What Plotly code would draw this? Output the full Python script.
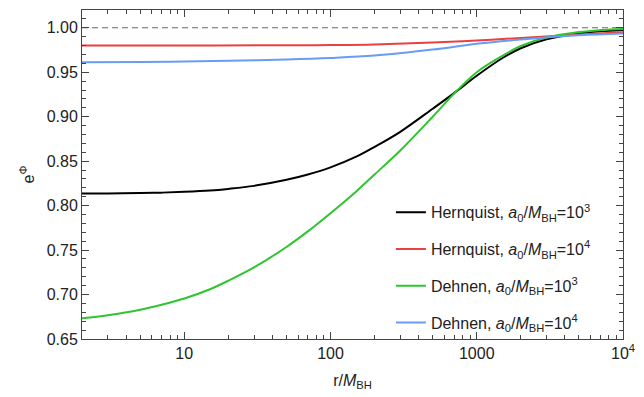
import plotly.graph_objects as go

# ---- data ----
r_grid = [2, 3, 5, 7, 10, 15, 20, 30, 50, 70, 100, 150, 200, 300, 500, 700, 1000, 1500, 2000, 3000, 5000, 7000, 10000]

hern3_y = [0.8135, 0.8137, 0.8141, 0.8146, 0.8155, 0.8170, 0.8188, 0.8222, 0.8290, 0.8350, 0.8430, 0.8550, 0.8660,
           0.8830, 0.9090, 0.9265, 0.9460, 0.9660, 0.9770, 0.9870, 0.9935, 0.9960, 0.9976]

deh3_y = [0.6732, 0.6768, 0.6830, 0.6885, 0.6955, 0.7060, 0.7155, 0.7305, 0.7535, 0.7710, 0.7915, 0.8160, 0.8350,
          0.8620, 0.9000, 0.9260, 0.9500, 0.9685, 0.9795, 0.9890, 0.9952, 0.9974, 0.9987]

hern4_r = [2, 10, 50, 100, 200, 500, 1000, 2000, 5000, 10000]
hern4_y = [0.9800, 0.9801, 0.9803, 0.9806, 0.9813, 0.9835, 0.9858, 0.9885, 0.9925, 0.9950]

deh4_r = [2, 5, 10, 20, 50, 100, 200, 500, 1000, 2000, 5000, 10000]
deh4_y = [0.9612, 0.9616, 0.9620, 0.9628, 0.9643, 0.9660, 0.9687, 0.9755, 0.9820, 0.9868, 0.9915, 0.9935]

names = [
    "Hernquist, <i>a</i><sub>0</sub>/<i>M</i><sub>BH</sub>=10<sup>3</sup>",
    "Hernquist, <i>a</i><sub>0</sub>/<i>M</i><sub>BH</sub>=10<sup>4</sup>",
    "Dehnen, <i>a</i><sub>0</sub>/<i>M</i><sub>BH</sub>=10<sup>3</sup>",
    "Dehnen, <i>a</i><sub>0</sub>/<i>M</i><sub>BH</sub>=10<sup>4</sup>",
]
colors = ["#000000", "#e8413f", "#2fc52f", "#6a9cf5"]

x_tickvals = [10, 100, 1000, 10000]
x_ticktext = ["10", "100", "1000", "10<sup>4</sup>"]
x_minor = [m * 10 ** d for d in range(0, 4) for m in range(2, 10) if 2 <= m * 10 ** d <= 10000]
y_tickvals = [0.65, 0.70, 0.75, 0.80, 0.85, 0.90, 0.95, 1.00]

FONT = "Liberation Sans, Arial, sans-serif"

fig = go.Figure()
series = [(r_grid, hern3_y), (hern4_r, hern4_y), (r_grid, deh3_y), (deh4_r, deh4_y)]
for i, ((xr, yv), nm, col) in enumerate(zip(series, names, colors)):
    fig.add_trace(go.Scatter(
        x=xr, y=yv, mode="lines", name=nm,
        line=dict(color=col, width=2, shape="spline", smoothing=1.0),
        legendgroup=f"g{i}",
    ))

fig.add_hline(y=1.0, line=dict(color="#666666", width=1, dash="6px,4px"), layer="below")

axis_color = "#444444"
fig.update_layout(
    width=644, height=397,
    margin=dict(l=82, r=15, t=9, b=58),
    paper_bgcolor="white", plot_bgcolor="white",
    font=dict(family=FONT, size=16, color="#222222"),
    showlegend=True,
    legend=dict(
        x=0.571, y=0.437, xanchor="left", yanchor="top",
        bgcolor="rgba(0,0,0,0)", borderwidth=0,
        font=dict(family=FONT, size=16, color="#222222"),
        traceorder="grouped", tracegroupgap=13, itemwidth=30,
    ),
    xaxis=dict(
        type="log", range=[0.30103, 4],
        tickvals=x_tickvals, ticktext=x_ticktext,
        ticks="inside", ticklen=7, tickwidth=1, tickcolor=axis_color,
        showline=True, linecolor=axis_color, linewidth=1, mirror="ticks",
        showgrid=False, zeroline=False,
        title=dict(text="r/<i>M</i><sub>BH</sub>", font=dict(size=16), standoff=13),
        tickfont=dict(size=16),
    ),
    xaxis2=dict(
        type="log", range=[0.30103, 4], overlaying="x",
        tickvals=x_minor, ticks="inside", ticklen=4, tickwidth=1, tickcolor=axis_color,
        showticklabels=False, showline=False, mirror="ticks", showgrid=False, zeroline=False,
        anchor="y",
    ),
    yaxis=dict(
        range=[0.65, 1.02],
        tickvals=y_tickvals, tickformat=".2f",
        ticks="inside", ticklen=7, tickwidth=1, tickcolor=axis_color,
        minor=dict(dtick=0.01, ticks="inside", ticklen=4, tickcolor=axis_color, showgrid=False),
        showline=True, linecolor=axis_color, linewidth=1, mirror="ticks",
        showgrid=False, zeroline=False,
        title=dict(text="e<sup>Φ</sup>", font=dict(size=16), standoff=8),
        tickfont=dict(size=16),
    ),
)

# invisible trace to activate the minor-tick overlay axis
fig.add_trace(go.Scatter(x=[2, 10000], y=[None, None], xaxis="x2", yaxis="y",
                         mode="lines", showlegend=False, hoverinfo="skip"))

fig.write_html("out.html")
